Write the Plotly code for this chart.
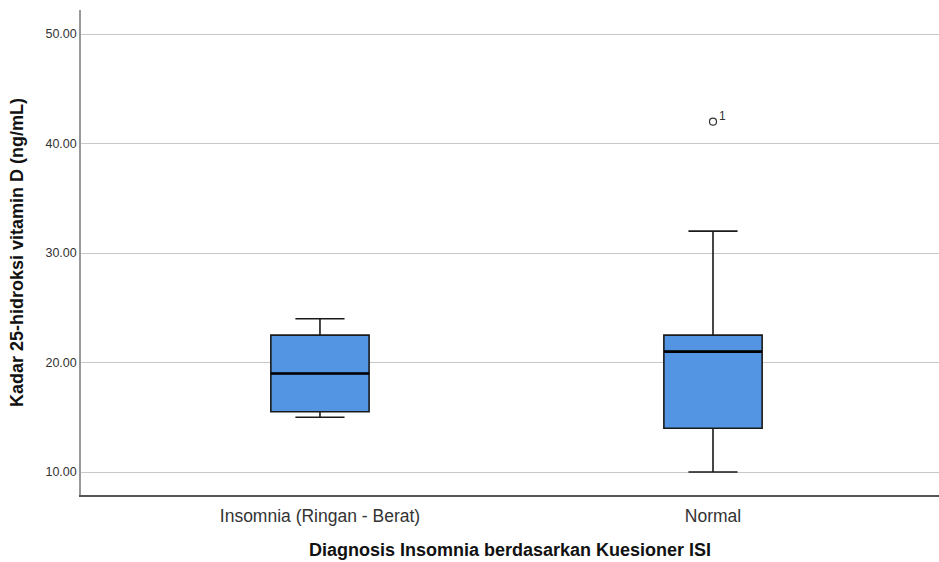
import plotly.graph_objects as go

categories = ["Insomnia (Ringan - Berat)", "Normal"]
lower_whisker = [15.0, 10.0]
q1 = [15.5, 14.0]
median = [19.0, 21.0]
q3 = [22.5, 22.5]
upper_whisker = [24.0, 32.0]
outlier_cat = [1]
outlier_val = [42.0]
outlier_label = ["1"]
y_ticks = [10, 20, 30, 40, 50]

BOX_W = 0.25
xs = list(range(len(categories)))

fig = go.Figure()
fig.add_trace(go.Box(
    x=xs, q1=q1, median=median, q3=q3,
    lowerfence=lower_whisker, upperfence=upper_whisker,
    width=BOX_W, whiskerwidth=0.5,
    fillcolor="#5394E3", line=dict(color="#1a1a1a", width=1.6),
    boxpoints=False, showlegend=False, hoverinfo="skip",
))
# thicker median lines
for i, m in zip(xs, median):
    fig.add_trace(go.Scatter(
        x=[i - BOX_W / 2, i + BOX_W / 2], y=[m, m], mode="lines",
        line=dict(color="#000000", width=2.6), showlegend=False, hoverinfo="skip",
    ))
fig.add_trace(go.Scatter(
    x=outlier_cat, y=outlier_val, mode="markers",
    marker=dict(symbol="circle-open", size=7, color="#333333", line=dict(width=1.2)),
    showlegend=False, hoverinfo="skip",
))
for c, v, t in zip(outlier_cat, outlier_val, outlier_label):
    fig.add_annotation(x=c, y=v, text=t, showarrow=False, xshift=9, yshift=6,
                       font=dict(family="Liberation Sans, Arial", size=12, color="#333333"))

fig.update_layout(
    width=939, height=562,
    margin=dict(l=81, r=0, t=10, b=67),
    paper_bgcolor="white", plot_bgcolor="white",
    font=dict(family="Liberation Sans, Arial", color="#222222"),
)
fig.update_xaxes(
    range=[-0.608, 1.575], tickvals=xs, ticktext=categories,
    tickfont=dict(size=17.5, color="#333333"),
    showgrid=False, zeroline=False, showline=True, linecolor="#555555", linewidth=1.5,
    ticks="", ticklabelstandoff=4,
    title=dict(text="<b>Diagnosis Insomnia berdasarkan Kuesioner ISI</b>",
               font=dict(size=18, color="#111111"), standoff=19),
)
fig.update_yaxes(
    range=[7.9, 52.2], tickvals=y_ticks, tickformat=".2f",
    tickfont=dict(size=12.5, color="#333333"),
    showgrid=True, gridcolor="#c8c8c8", gridwidth=1, zeroline=False,
    showline=True, linecolor="#999999", linewidth=1.5, ticks="",
    title=dict(text="<b>Kadar 25-hidroksi vitamin D (ng/mL)</b>",
               font=dict(size=18, color="#111111"), standoff=17),
)
fig.write_html("out.html", config={"displayModeBar": False},
               post_script="document.body.style.margin='0px';")
